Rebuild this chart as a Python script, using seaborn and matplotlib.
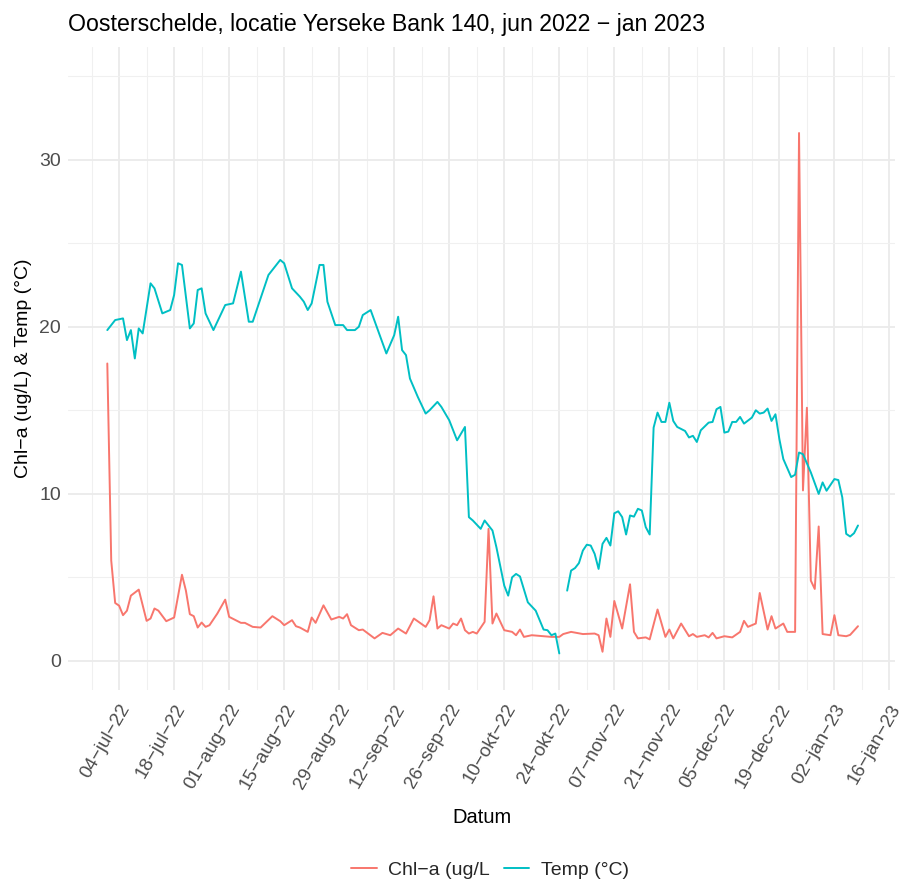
import numpy as np
import pandas as pd
import matplotlib
matplotlib.use("Agg")
import matplotlib.pyplot as plt
import seaborn as sns

# ---------------- data ----------------
start_date = "2022-07-04"   # day 0 of the offsets below

chl_days = [-3, -2, -1, 0, 1, 2, 3, 5, 7, 8,
            9, 10, 12, 14, 16, 17, 18, 19, 20, 21,
            22, 23, 25, 27, 28, 31, 32, 34, 36, 39,
            41, 42, 44, 45, 46, 48, 49, 50, 52, 54,
            56, 57, 58, 59, 61, 62, 65, 67, 69, 71,
            73, 75, 78, 79, 80, 81, 82, 84, 85, 86,
            87, 88, 89, 90, 91, 93, 94, 95, 96, 98,
            100, 101, 102, 103, 105, 108, 110, 112, 113, 115,
            118, 121, 122, 123, 124, 125, 126, 128, 130, 131,
            132, 134, 135, 137, 139, 140, 141, 143, 145, 146,
            147, 149, 150, 151, 152, 154, 156, 158, 159, 160,
            162, 163, 165, 166, 167, 169, 170, 172, 173, 174,
            175, 176, 177, 178, 179, 181, 182, 183, 185, 186,
            188]
chl_vals = [17.8, 6.0, 3.46, 3.3, 2.73, 3.0, 3.9, 4.26, 2.39, 2.53,
            3.13, 3.0, 2.37, 2.59, 5.15, 4.2, 2.79, 2.67, 1.99, 2.29,
            2.03, 2.13, 2.83, 3.66, 2.63, 2.27, 2.27, 2.03, 1.99, 2.67,
            2.37, 2.13, 2.43, 2.07, 1.99, 1.73, 2.59, 2.27, 3.32, 2.47,
            2.63, 2.53, 2.79, 2.13, 1.83, 1.87, 1.34, 1.67, 1.53, 1.93,
            1.63, 2.53, 2.03, 2.43, 3.86, 1.93, 2.13, 1.93, 2.23, 2.13,
            2.53, 1.83, 1.63, 1.73, 1.63, 2.33, 7.9, 2.23, 2.83, 1.83,
            1.73, 1.53, 1.87, 1.43, 1.53, 1.47, 1.43, 1.43, 1.6, 1.73,
            1.6, 1.63, 1.53, 0.54, 2.53, 1.43, 3.58, 1.93, 4.58, 1.73,
            1.34, 1.4, 1.28, 3.07, 1.43, 1.87, 1.34, 2.23, 1.47, 1.6,
            1.43, 1.53, 1.4, 1.67, 1.34, 1.47, 1.4, 1.73, 2.39, 2.03,
            2.23, 4.06, 1.87, 2.67, 1.93, 2.23, 1.73, 1.73, 31.6, 10.2,
            15.15, 4.8, 4.3, 8.04, 1.6, 1.53, 2.73, 1.53, 1.47, 1.55,
            2.07]

temp_days = [-3, -1, 1, 2, 3, 4, 5, 6, 8, 9,
             11, 13, 14, 15, 16, 18, 19, 20, 21, 22,
             24, 27, 29, 31, 33, 34, 36, 38, 41, 42,
             44, 46, 47, 48, 49, 51, 52, 53, 55, 57,
             58, 60, 61, 62, 64, 66, 68, 70, 71, 72,
             73, 74, 76, 78, 79, 81, 82, 84, 86, 88,
             89, 90, 92, 93, 95, 96, 98, 99, 100, 101,
             102, 104, 106, 108, 109, 110, 111, 112, 113, 114,
             115, 116, 117, 118, 119, 120, 121, 122, 123, 124,
             125, 126, 127, 128, 129, 130, 131, 132, 133, 134,
             135, 136, 137, 138, 139, 140, 141, 142, 144, 145,
             146, 147, 148, 150, 151, 152, 153, 154, 155, 156,
             157, 158, 159, 161, 162, 163, 164, 165, 166, 167,
             168, 169, 171, 172, 173, 174, 176, 178, 179, 180,
             182, 183, 184, 185, 186, 187, 188]
temp_vals = [19.8, 20.4, 20.5, 19.2, 19.8, 18.1, 19.9, 19.6, 22.6, 22.3,
             20.8, 21.0, 21.9, 23.8, 23.7, 19.9, 20.2, 22.2, 22.3, 20.8,
             19.8, 21.3, 21.4, 23.3, 20.3, 20.3, 21.7, 23.1, 24.0, 23.8,
             22.3, 21.8, 21.5, 21.0, 21.4, 23.7, 23.7, 21.5, 20.1, 20.1,
             19.8, 19.8, 20.0, 20.7, 21.0, 19.7, 18.4, 19.5, 20.6, 18.6,
             18.3, 16.9, 15.8, 14.8, 15.0, 15.5, 15.2, 14.4, 13.2, 14.0,
             8.6, 8.4, 7.9, 8.4, 7.8, 6.8, 4.5, 3.9, 5.0, 5.2,
             5.05, 3.5, 3.0, 1.87, 1.83, 1.53, 1.63, 0.44, np.nan, 4.2,
             5.4, 5.55, 5.85, 6.6, 6.95, 6.9, 6.4, 5.5, 7.0, 7.36,
             6.9, 8.83, 8.95, 8.6, 7.56, 8.7, 8.63, 9.1, 9.0, 8.0,
             7.56, 13.96, 14.86, 14.3, 14.3, 15.45, 14.36, 14.0, 13.76, 13.37,
             13.47, 13.1, 13.8, 14.26, 14.3, 15.06, 15.2, 13.66, 13.72, 14.3,
             14.3, 14.6, 14.2, 14.56, 15.0, 14.8, 14.86, 15.1, 14.36, 14.76,
             13.27, 12.08, 11.0, 11.14, 12.47, 12.37, 11.28, 9.99, 10.68, 10.18,
             10.88, 10.82, 9.79, 7.6, 7.44, 7.64, 8.1]

series_names = ["Chl\u2212a (ug/L", "Temp (\u00b0C)"]
series_colors = ["#F8766D", "#00BFC4"]

tick_dates = ["2022-07-04", "2022-07-18", "2022-08-01", "2022-08-15", "2022-08-29",
              "2022-09-12", "2022-09-26", "2022-10-10", "2022-10-24", "2022-11-07",
              "2022-11-21", "2022-12-05", "2022-12-19", "2023-01-02", "2023-01-16"]
tick_labels = ["04\u2212jul\u221222", "18\u2212jul\u221222", "01\u2212aug\u221222",
               "15\u2212aug\u221222", "29\u2212aug\u221222", "12\u2212sep\u221222",
               "26\u2212sep\u221222", "10\u2212okt\u221222", "24\u2212okt\u221222",
               "07\u2212nov\u221222", "21\u2212nov\u221222", "05\u2212dec\u221222",
               "19\u2212dec\u221222", "02\u2212jan\u221223", "16\u2212jan\u221223"]
y_ticks = [0, 10, 20, 30]
y_minor = [5, 15, 25, 35]

title_text = "Oosterschelde, locatie Yerseke Bank 140, jun 2022 \u2212 jan 2023"
x_title = "Datum"
y_title = "Chl\u2212a (ug/L) & Temp (\u00b0C)"

assert len(chl_days) == len(chl_vals)
assert len(temp_days) == len(temp_vals)

# ---------------- build long table ----------------
base = pd.Timestamp(start_date)
chl = pd.DataFrame({"Datum": base + pd.to_timedelta(chl_days, unit="D"),
                    "waarde": chl_vals, "reeks": series_names[0]})
chl["seg"] = "c0"
temp = pd.DataFrame({"Datum": base + pd.to_timedelta(temp_days, unit="D"),
                     "waarde": temp_vals, "reeks": series_names[1]})
# a missing value splits the temperature line into separate pieces
temp["seg"] = "t" + temp["waarde"].isna().cumsum().astype(str)
temp = temp.dropna()
df = pd.concat([chl, temp], ignore_index=True)

# ---------------- style ----------------
sns.set_theme(style="white")
plt.rcParams["font.family"] = ["Liberation Sans", "DejaVu Sans"]

W, H = 899, 883
fig = plt.figure(figsize=(W / 100, H / 100), dpi=100)
pl, pr, pt, pb = 68, 895, 47, 690
ax = fig.add_axes([pl / W, 1 - pb / H, (pr - pl) / W, (pb - pt) / H])

sns.lineplot(data=df, x="Datum", y="waarde", hue="reeks", units="seg",
             estimator=None, palette=dict(zip(series_names, series_colors)),
             hue_order=series_names, linewidth=1.4, ax=ax, sort=True)

# axes limits (ggplot-style expansion)
ax.set_xlim(pd.Timestamp("2022-06-21 00:00"), pd.Timestamp("2023-01-17 10:00"))
ax.set_ylim(-1.75, 36.75)

# grid
tick_ts = pd.to_datetime(tick_dates)
minor_ts = tick_ts - pd.Timedelta(days=7)
ax.set_xticks(tick_ts)
ax.set_xticks(minor_ts, minor=True)
ax.set_xticklabels(tick_labels, rotation=60, ha="right", va="top",
                   rotation_mode="anchor", fontsize=13.5, color="#4D4D4D")
ax.set_yticks(y_ticks)
ax.set_yticks(y_minor, minor=True)
ax.set_yticklabels([str(v) for v in y_ticks], fontsize=14, color="#4D4D4D")
ax.grid(which="major", color="#EBEBEB", linewidth=1.3)
ax.grid(which="minor", color="#F0F0F0", linewidth=0.8)
ax.set_axisbelow(True)
ax.tick_params(axis="both", which="both", length=0)
ax.tick_params(axis="x", pad=8)
ax.tick_params(axis="y", pad=5)
for s in ax.spines.values():
    s.set_visible(False)

ax.set_xlabel(x_title, fontsize=14.5, color="black")
ax.xaxis.set_label_coords(0.5, -0.183)
ax.set_ylabel(y_title, fontsize=14, color="black")
ax.yaxis.set_label_coords(-0.043, 0.5)

fig.text(pl / W, 1 - 31 / H, title_text, fontsize=16.7, ha="left", va="baseline",
         color="black")

sns.move_legend(ax, "center", bbox_to_anchor=(490 / W, 1 - 870 / H),
                bbox_transform=fig.transFigure, ncol=2, title=None,
                frameon=False, fontsize=14, handlelength=1.3,
                columnspacing=0.7, handletextpad=0.6, borderpad=0.2)
for line in ax.get_legend().get_lines():
    line.set_linewidth(1.4)

fig.savefig("out.png", dpi=100, facecolor="white")
